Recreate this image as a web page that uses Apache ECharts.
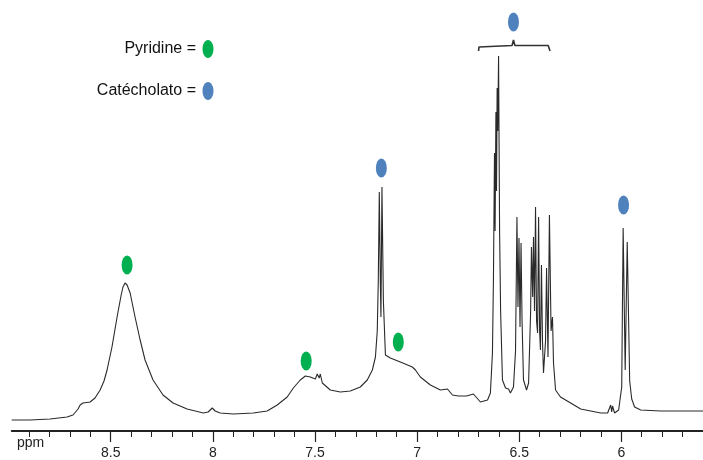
<!DOCTYPE html>
<html><head><meta charset="utf-8">
<script src="https://cdn.jsdelivr.net/npm/echarts@6/dist/echarts.min.js"></script>
<style>html,body{margin:0;padding:0;background:#fff}#c{width:703px;height:460px}</style>
</head><body><div id="c"></div>
<script>
// chemical shift (ppm) and intensity (arbitrary units) of the spectrum trace
const spectrumPpm = [8.985,8.895,8.797,8.714,8.685,8.660,8.650,8.636,8.601,8.577,8.552,8.533,8.518,8.494,8.469,8.449,8.440,8.430,8.420,8.405,8.381,8.356,8.332,8.293,8.244,8.195,8.126,8.047,8.023,8.003,7.989,7.964,7.900,7.802,7.734,7.685,7.636,7.606,7.572,7.547,7.523,7.498,7.489,7.479,7.474,7.464,7.425,7.376,7.327,7.278,7.244,7.219,7.204,7.195,7.190,7.185,7.180,7.177,7.172,7.165,7.155,7.131,7.082,7.023,7.008,6.984,6.935,6.886,6.851,6.827,6.798,6.758,6.724,6.690,6.655,6.641,6.631,6.626,6.621,6.618,6.614,6.611,6.608,6.605,6.601,6.596,6.591,6.582,6.567,6.552,6.543,6.528,6.518,6.511,6.506,6.501,6.496,6.491,6.486,6.479,6.464,6.454,6.444,6.440,6.434,6.430,6.425,6.420,6.415,6.410,6.405,6.400,6.396,6.391,6.386,6.381,6.371,6.366,6.359,6.352,6.344,6.337,6.332,6.322,6.298,6.248,6.199,6.101,6.067,6.052,6.047,6.043,6.033,6.013,5.998,5.991,5.981,5.971,5.959,5.949,5.935,5.905,5.807,5.709,5.596];
const spectrumInt = [11,11,12,14,16,22,26,28,29,33,41,50,61,84,114,136,144,148,146,138,114,91,71,51,36,28,22,18,19,23,20,18,17,18,20,26,34,43,51,55,54,52,57,53,57,48,41,39,40,44,51,61,74,100,150,239,150,114,244,130,76,73,69,64,61,54,46,41,42,36,35,35,37,29,31,38,78,154,278,200,319,240,343,300,375,200,120,51,43,42,38,44,80,214,124,193,104,188,110,51,41,48,120,184,134,194,120,224,110,98,214,100,81,166,90,58,90,163,74,216,100,114,68,41,34,28,22,18,18,26,19,25,18,21,44,203,61,189,50,32,24,21,20,20,20];

// peak assignment markers [ppm, height]
const pyridineDots = [[8.420,166],[7.543,70],[7.092,89]];
const catecholatoDots = [[7.175,263],[5.989,226],[6.528,409]];
// bracket over the 6.3–6.7 ppm multiplets [ppm, height]
const bracketPts = [[6.699,380],[6.697,384],[6.690,385.5],[6.535,385.5],[6.528,391],[6.521,385.5],[6.358,385.5],[6.351,384],[6.349,380]];

// axis ticks
const majorTicks = [6,6.5,7,7.5,8,8.5];
const minorTicks = [];
for (let i = 56; i <= 89; i++) minorTicks.push(i/10);

const legendItems = ['Pyridine =','Catécholato ='];

const GREEN = '#00B050', BLUE = '#4F81BD';
const XMIN = 5.6, XMAX = 8.985;
const FONT = 'Liberation Sans, Arial, sans-serif';
const gridPos = {left: 11.7, right: 0, top: 11, bottom: 29};

const chart = echarts.init(document.getElementById('c'), null, {renderer:'canvas'});
chart.setOption({
  animation: false,
  backgroundColor: '#fff',
  grid: [Object.assign({}, gridPos), Object.assign({}, gridPos)],
  xAxis: [
    {type:'value', gridIndex:0, min:XMIN, max:XMAX, inverse:true, position:'bottom',
     splitLine:{show:false},
     axisLine:{show:true, lineStyle:{color:'#222', width:1.8}},
     axisTick:{show:true, customValues:minorTicks, length:6, inside:false, lineStyle:{color:'#222', width:1}},
     axisLabel:{show:true, customValues:majorTicks, margin:15, fontSize:14, color:'#222', fontFamily:FONT}},
    {type:'value', gridIndex:1, min:XMIN, max:XMAX, inverse:true, position:'bottom',
     splitLine:{show:false},
     axisLine:{show:false},
     axisTick:{show:true, customValues:majorTicks, length:11, lineStyle:{color:'#222', width:1.2}},
     axisLabel:{show:false}}
  ],
  yAxis: [
    {type:'value', gridIndex:0, min:0, max:420, show:false},
    {type:'value', gridIndex:1, min:0, max:420, show:false}
  ],
  series: [
    {type:'line', xAxisIndex:0, yAxisIndex:0, data: spectrumPpm.map((p,i)=>[p, spectrumInt[i]]),
     showSymbol:false, symbol:'none', smooth:false, lineStyle:{color:'#2a2a2a', width:1.1}},
    {type:'line', xAxisIndex:0, yAxisIndex:0, data: bracketPts, showSymbol:false, symbol:'none',
     lineStyle:{color:'#333', width:1.6}},
    {type:'scatter', xAxisIndex:0, yAxisIndex:0, data: pyridineDots, symbol:'circle', symbolSize:[11,19],
     itemStyle:{color:GREEN, opacity:1}},
    {type:'scatter', xAxisIndex:0, yAxisIndex:0, data: catecholatoDots, symbol:'circle', symbolSize:[11,19],
     itemStyle:{color:BLUE, opacity:1}}
  ],
  graphic: [
    {type:'text', left:17, top:436, style:{text:'ppm', fontSize:14, fill:'#222', fontFamily:FONT}},
    {type:'text', x:196, y:49, style:{text:legendItems[0], fontSize:16, fill:'#111', align:'right', verticalAlign:'middle', fontFamily:FONT}},
    {type:'text', x:196, y:91, style:{text:legendItems[1], fontSize:16, fill:'#111', align:'right', verticalAlign:'middle', fontFamily:FONT}},
    {type:'ellipse', shape:{cx:208, cy:49, rx:5.5, ry:9}, style:{fill:GREEN}},
    {type:'ellipse', shape:{cx:208, cy:91, rx:5.5, ry:9}, style:{fill:BLUE}}
  ]
});
</script></body></html>
